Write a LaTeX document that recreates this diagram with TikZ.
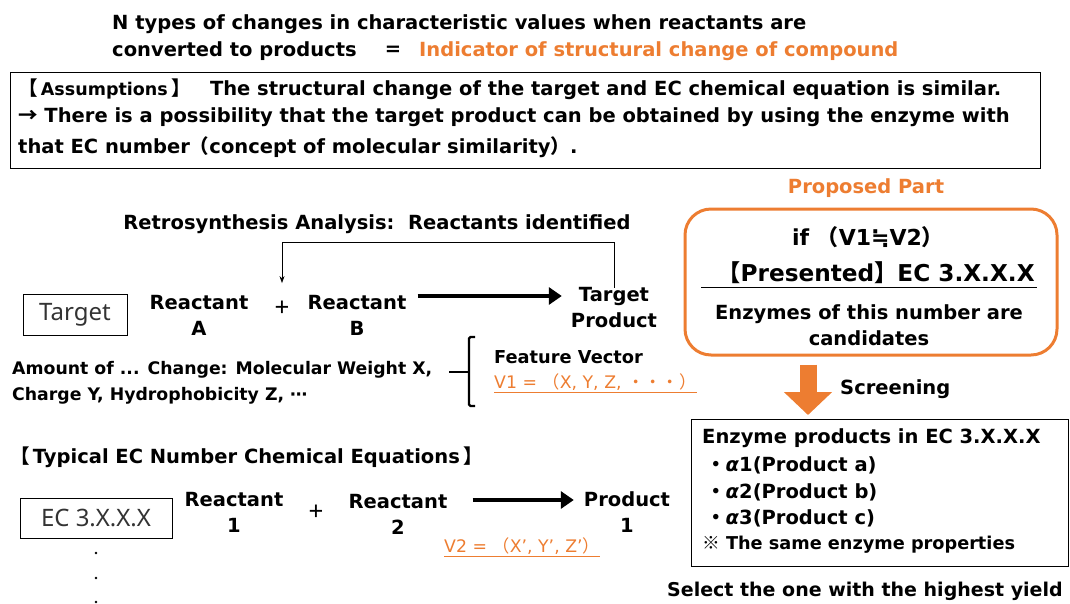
\documentclass[tikz,border=0pt]{standalone}
\usepackage{fontspec}
\setmainfont{DejaVu Sans}
\newfontfamily\jpfont{Noto Sans CJK JP}
\newfontfamily\lightfont{Noto Sans}
\usetikzlibrary{positioning,arrows.meta,calc}
\definecolor{accent}{HTML}{ED7D31}
\definecolor{thingray}{HTML}{333333}
\newcommand{\jp}[1]{{\jpfont #1}}

\begin{document}
\begin{tikzpicture}[x=1pt,y=-1pt,
        every node/.style={inner sep=0pt, font=\fontsize{19.5}{26}\selectfont\bfseries},
        textline/.style={anchor=west},
        stack/.style={align=center},
        smalltext/.style={font=\fontsize{17.3}{26}\selectfont\bfseries},
        framebox/.style={draw, line width=0.8pt},
        thinbox/.style={draw, line width=0.8pt, font=\lightfont\fontsize{24}{26}\selectfont, text=thingray},
        plussign/.style={font=\lightfont\fontsize{26}{26}\selectfont},
        reactarrow/.style={line width=4.5pt, -{Triangle[length=13pt,width=17pt]}},
        feedback/.style={line width=0.6pt, -{Stealth[length=7pt,width=5pt]}},
        screenarrow/.style={accent, line width=17pt, -{Triangle[length=23pt,width=47pt]}},
        vector/.style={anchor=west, text=accent, font=\fontsize{17.3}{26}\selectfont}
    ]
    \useasboundingbox (0,0) rectangle (1070,603);

    % heading
    \node[textline] (title1) at (112,24) {N types of changes in characteristic values when reactants are};
    \node[textline] (title2) at (112,51) {converted to products};
    \node (eqsign) at (393,51) {=};
    \node[textline, text=accent] (indicator) at (419,51) {Indicator of structural change of compound};

    % assumptions
    \node[framebox, minimum width=1030, minimum height=96, anchor=north west] (assume) at (10,72) {};
    \node[textline] (as1) at (18,89) {\jp{【}\,{\fontsize{17.5}{20}\selectfont Assumptions}\,\jp{】}\quad The structural change of the target and EC chemical equation is similar.};
    \node[textline] (as2) at (18,117) {\jp{→} There is a possibility that the target product can be obtained by using the enzyme with};
    \node[textline] (as3) at (18,147) {that EC number\jp{（}concept of molecular similarity\jp{）}.};

    % target reaction
    \node (retro) at (377,224) {Retrosynthesis Analysis:\ \ Reactants identified};
    \node[thinbox, minimum width=104, minimum height=41] (target) at (75,315) {Target};
    \node[stack] (reactA) at (199,315) {Reactant\\A};
    \node[plussign] (plusAB) at (282,309) {+};
    \node[stack] (reactB) at (357,315) {Reactant\\B};
    \node[stack] (tprod) at (614,308) {Target\\Product};
    \coordinate (arrowrow) at (0,296);
    \coordinate (fbline) at (0,242);
    \draw[reactarrow] ([xshift=11pt]reactB.east |- arrowrow) -- ([xshift=-9pt]tprod.west |- arrowrow);
    \draw[feedback] (tprod.north) |- (fbline -| plusAB.north) -- ([yshift=18pt]plusAB.north);

    \node[textline, smalltext] (amount1) at (12,370) {Amount of ... Change: Molecular Weight X,};
    \node[textline, smalltext] (amount2) at (12,396) {Charge Y, Hydrophobicity Z, ⋯};
    \draw[line width=2.2pt] (449,372) -- (469,372);
    \draw[line width=2.2pt, rounded corners=1.5pt] (475,337) -- (469,337) -- (469,406) -- (475,406);
    \node[textline, font=\fontsize{17.8}{26}\selectfont\bfseries] (feature) at (494,357) {Feature Vector};
    \node[vector] (vone) at (494,382) {V1 = \jp{（}X, Y, Z, \jp{・・・}\jp{）}};
    \draw[accent, line width=0.8pt] ([yshift=-2pt]vone.south west) -- ([yshift=-2pt]vone.south east);

    % proposed part
    \node[text=accent] (proposed) at (866,188) {Proposed Part};
    \node[draw=accent, line width=3pt, rounded corners=26pt, minimum width=372, minimum height=146] (propbox) at (871,282) {};
    \node[font=\fontsize{22}{26}\selectfont\bfseries] (ifv) at (868,237) {if \jp{（}V1≒V2\jp{）}};
    \node[font=\fontsize{23.2}{26}\selectfont\bfseries] (present) at (876,273) {\jp{【}Presented\jp{】}EC 3.X.X.X};
    \draw[line width=1.2pt] ([xshift=-16pt,yshift=-3pt]present.south west) -- ([xshift=2pt,yshift=-3pt]present.south east);
    \node[stack] (candid) at (869,325) {Enzymes of this number are\\candidates};

    \coordinate (screenx) at (808,0);
    \node[textline] (screening) at (840,389) {Screening};
    \node[framebox, minimum width=377, minimum height=147, anchor=north west] (enzbox) at (691,419) {};
    \draw[screenarrow] ([yshift=-8pt]propbox.south -| screenx) -- ([yshift=4pt]enzbox.north -| screenx);
    \node[textline] (enz0) at (702,438) {Enzyme products in EC 3.X.X.X};
    \node[textline] (enz1) at (706,465) {\jp{・}\textit{α}1(Product a)};
    \node[textline] (enz2) at (706,492) {\jp{・}\textit{α}2(Product b)};
    \node[textline] (enz3) at (706,518) {\jp{・}\textit{α}3(Product c)};
    \node[textline, font=\fontsize{17.7}{24}\selectfont\bfseries] (enznote) at (702,545) {\jp{※} The same enzyme properties};
    \node[textline, font=\fontsize{19}{24}\selectfont\bfseries] (select) at (667,591) {Select the one with the highest yield};

    % typical EC equation
    \node[textline] (typical) at (10,457) {\jp{【}\,Typical EC Number Chemical Equations\,\jp{】}};
    \node[thinbox, minimum width=152, minimum height=40] (ecbox) at (96,518) {EC 3.X.X.X};
    \node[stack] (react1) at (234,512) {Reactant\\1};
    \node[plussign] (plus12) at (316,513) {+};
    \node[stack] (react2) at (398,514) {Reactant\\2};
    \node[stack] (prod1) at (627,512) {Product\\1};
    \coordinate (arrowrow2) at (0,500);
    \draw[reactarrow] ([xshift=25pt]react2.east |- arrowrow2) -- ([xshift=-10pt]prod1.west |- arrowrow2);
    \node[vector] (vtwo) at (444,546) {V2 = \jp{（}X’, Y’, Z’\jp{）}};
    \draw[accent, line width=0.8pt] ([yshift=-2pt]vtwo.south west) -- ([yshift=-2pt]vtwo.south east);
    \foreach \dy in {553,578,602}
        \fill (96,\dy) circle (1.3pt);
\end{tikzpicture}
\end{document}
